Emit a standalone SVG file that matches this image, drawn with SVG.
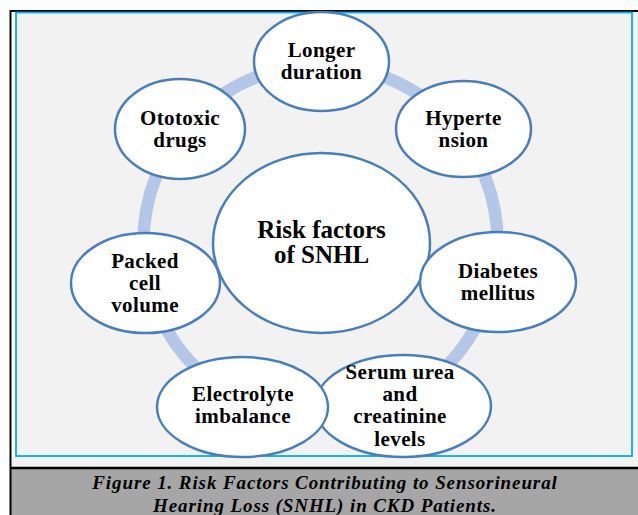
<svg xmlns="http://www.w3.org/2000/svg" width="638" height="515" viewBox="0 0 638 515">
  <style>
    .node { fill: #ffffff; stroke: #4a7ebb; stroke-width: 2.5; }
    .lbl { font-family: "Liberation Serif", "Times New Roman", serif; font-weight: bold; font-size: 21px; letter-spacing: 0.4px; fill: #000000; text-anchor: middle; }
    .hub { font-size: 25px; letter-spacing: 0; }
    .cap { font-family: "Liberation Serif", "Times New Roman", serif; font-weight: bold; font-style: italic; font-size: 19px; letter-spacing: 0.9px; fill: #000000; text-anchor: middle; }
  </style>

  <!-- page frame -->
  <rect x="0" y="0" width="638" height="515" fill="#ffffff"/>
  <rect x="12" y="12" width="626" height="456" fill="#f2f2f2"/>
  <rect x="12" y="12" width="3.5" height="445" fill="#ffffff"/>
  <rect x="10" y="468" width="628" height="47" fill="#a6a6a6"/>
  <line x1="10" y1="11" x2="638" y2="11" stroke="#000000" stroke-width="2"/>
  <line x1="10.5" y1="10" x2="10.5" y2="515" stroke="#000000" stroke-width="2"/>
  <line x1="10" y1="468" x2="638" y2="468" stroke="#000000" stroke-width="2.5"/>

  <!-- figure panel -->
  <rect x="16" y="12.5" width="616" height="443.5" fill="#f2f2f2" stroke="#00b0f0" stroke-width="1.8"/>

  <!-- connectors: cycle ring behind the nodes -->
  <g id="connectors">
    <circle cx="320.5" cy="242" r="177" fill="none" stroke="#b4c7e7" stroke-width="12.5"/>
  </g>

  <g id="hub">
    <ellipse class="node" cx="321.5" cy="243" rx="108.5" ry="90"/>
    <text class="lbl hub" x="321.5" y="238">Risk factors</text>
    <text class="lbl hub" x="321.5" y="263">of SNHL</text>
  </g>

  <g id="longer-duration">
    <ellipse class="node" cx="321.5" cy="61.5" rx="67.5" ry="49.5"/>
    <text class="lbl" x="321.5" y="57">Longer</text>
    <text class="lbl" x="321.5" y="79">duration</text>
  </g>

  <g id="hypertension">
    <ellipse class="node" cx="463.5" cy="129" rx="67.5" ry="48"/>
    <text class="lbl" x="463.5" y="125">Hyperte</text>
    <text class="lbl" x="463.5" y="147">nsion</text>
  </g>

  <g id="diabetes">
    <ellipse class="node" cx="498" cy="282" rx="78" ry="50"/>
    <text class="lbl" x="498" y="278">Diabetes</text>
    <text class="lbl" x="498" y="300">mellitus</text>
  </g>

  <g id="serum-urea">
    <ellipse class="node" cx="403" cy="406" rx="88" ry="51"/>
    <text class="lbl" x="400" y="379">Serum urea</text>
    <text class="lbl" x="400" y="401">and</text>
    <text class="lbl" x="400" y="423">creatinine</text>
    <text class="lbl" x="400" y="446">levels</text>
  </g>

  <g id="electrolyte">
    <ellipse class="node" cx="242.5" cy="407" rx="85.5" ry="50"/>
    <text class="lbl" x="243" y="401">Electrolyte</text>
    <text class="lbl" x="243" y="423">imbalance</text>
  </g>

  <g id="packed-cell-volume">
    <ellipse class="node" cx="145.5" cy="283" rx="74.5" ry="50"/>
    <text class="lbl" x="145" y="268">Packed</text>
    <text class="lbl" x="145" y="290">cell</text>
    <text class="lbl" x="145" y="312">volume</text>
  </g>

  <g id="ototoxic-drugs">
    <ellipse class="node" cx="180" cy="129" rx="65" ry="50"/>
    <text class="lbl" x="180" y="125">Ototoxic</text>
    <text class="lbl" x="180" y="147">drugs</text>
  </g>

  <!-- caption -->
  <text class="cap" x="325" y="489">Figure 1. Risk Factors Contributing to Sensorineural</text>
  <text class="cap" x="325" y="512">Hearing Loss (SNHL) in CKD Patients.</text>
</svg>
